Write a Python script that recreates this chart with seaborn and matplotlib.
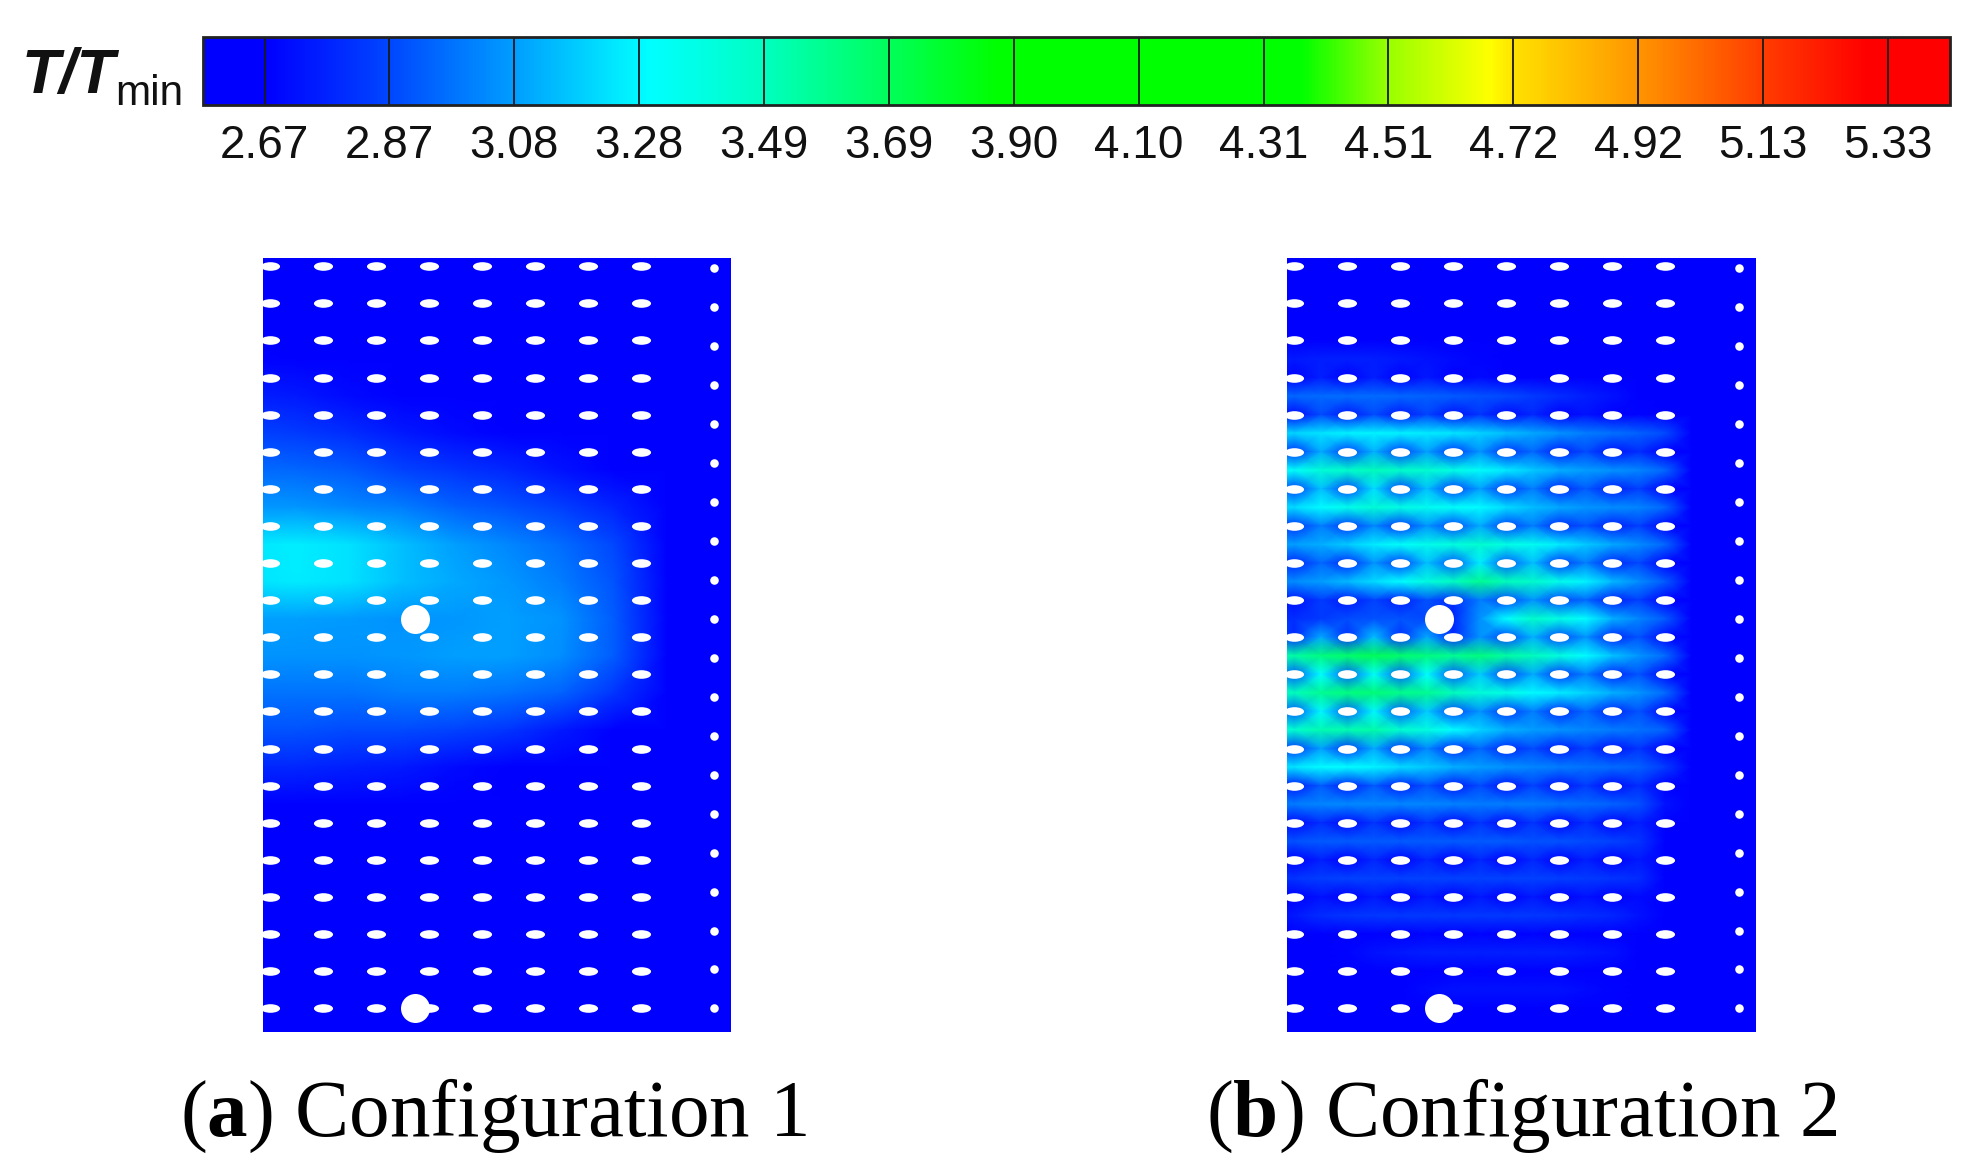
import matplotlib
matplotlib.use("Agg")
import matplotlib.pyplot as plt
from matplotlib.colors import LinearSegmentedColormap
from matplotlib.path import Path
from matplotlib.transforms import Affine2D
import numpy as np
import pandas as pd
import seaborn as sns

W, H = 1979, 1171
plt.rcParams['mathtext.fontset'] = 'custom'
plt.rcParams['mathtext.bf'] = 'Liberation Serif:bold'
plt.rcParams['mathtext.rm'] = 'Liberation Serif'

level_labels = ["2.67", "2.87", "3.08", "3.28", "3.49", "3.69", "3.90", "4.10",
                "4.31", "4.51", "4.72", "4.92", "5.13", "5.33"]
level_values = [2.667, 2.872, 3.077, 3.282, 3.487, 3.692, 3.897, 4.102,
                4.307, 4.512, 4.717, 4.922, 5.127, 5.332]
value_min, value_max = 2.566, 5.434
colour_stops = [(2.566, (0, 0, 255)), (2.67, (0, 0, 255)), (2.87, (0, 70, 255)), (3.08, (0, 160, 255)),
                (3.26, (0, 240, 255)), (3.30, (0, 255, 255)), (3.49, (0, 255, 190)), (3.69, (0, 255, 90)),
                (3.87, (0, 255, 0)), (4.37, (0, 255, 0)), (4.51, (150, 255, 0)), (4.68, (255, 255, 0)),
                (4.72, (255, 225, 0)), (4.92, (255, 150, 0)), (5.13, (255, 60, 0)), (5.30, (255, 0, 0)),
                (5.434, (255, 0, 0))]

# T/Tmin; rows run top to bottom
panel_a_values = [
 [2.6]*11, [2.6]*11, [2.6]*11,
 [2.68,2.66,2.63,2.6,2.6,2.6,2.6,2.6,2.6,2.6,2.6],
 [2.76,2.74,2.70,2.65,2.62,2.6,2.6,2.6,2.6,2.6,2.6],
 [2.86,2.84,2.80,2.74,2.70,2.67,2.63,2.6,2.6,2.6,2.6],
 [2.96,2.95,2.92,2.86,2.82,2.78,2.72,2.66,2.6,2.6,2.6],
 [3.06,3.06,3.03,3.00,2.94,2.90,2.85,2.77,2.61,2.6,2.6],
 [3.24,3.26,3.23,3.15,3.08,3.02,2.96,2.87,2.63,2.6,2.6],
 [3.23,3.25,3.23,3.15,3.10,3.06,3.00,2.90,2.64,2.6,2.6],
 [3.08,3.08,3.07,3.05,3.06,3.08,3.05,2.92,2.64,2.6,2.6],
 [3.05,3.05,3.05,3.06,3.08,3.08,3.04,2.92,2.63,2.6,2.6],
 [2.98,2.98,2.98,3.00,3.00,2.98,2.94,2.82,2.61,2.6,2.6],
 [2.90,2.90,2.88,2.88,2.86,2.82,2.74,2.64,2.6,2.6,2.6],
 [2.78,2.78,2.76,2.74,2.70,2.66,2.62,2.6,2.6,2.6,2.6],
 [2.62,2.62,2.62,2.6,2.6,2.6,2.6,2.6,2.6,2.6,2.6],
 [2.6]*11, [2.6]*11, [2.6]*11, [2.6]*11, [2.6]*11, [2.6]*11, [2.6]*11,
]

panel_b_values = [
 [2.6]*20,
 [2.6]*12+[2.63]+[2.6]*7,
 [2.6]*12+[2.63]+[2.6]*7,
 [2.6]*20, [2.6]*20, [2.6]*20,
 [2.74,2.74,2.76,2.76,2.76,2.74,2.72,2.70,2.68,2.66,2.64,2.62]+[2.6]*8,
 [2.76,2.66,2.76,2.66,2.76,2.66,2.74,2.65,2.7,2.63,2.66]+[2.6]*9,
 [2.95,2.95,2.96,2.96,2.96,2.95,2.94,2.92,2.9,2.88,2.84,2.8,2.76,2.72,2.66,2.6,2.6,2.6,2.6,2.6],
 [2.84,2.7,2.88,2.74,2.88,2.74,2.86,2.72,2.82,2.7,2.78,2.66,2.72,2.64,2.68,2.6,2.6,2.6,2.6,2.6],
 [3.2,3.2,3.24,3.27,3.28,3.27,3.26,3.24,3.2,3.15,3.1,3.05,3.0,2.97,2.94,2.88,2.6,2.6,2.6,2.6],
 [3.05,2.82,3.1,2.86,3.12,2.86,3.08,2.84,3.05,2.82,2.95,2.76,2.88,2.72,2.8,2.64,2.6,2.6,2.6,2.6],
 [3.3,3.32,3.42,3.46,3.5,3.46,3.44,3.38,3.32,3.25,3.18,3.12,3.08,3.05,3.02,2.95,2.6,2.6,2.6,2.6],
 [3.1,2.86,3.15,2.88,3.22,2.88,3.15,2.86,3.08,2.84,3.0,2.78,2.92,2.76,2.85,2.68,2.6,2.6,2.6,2.6],
 [3.2,3.22,3.3,3.36,3.42,3.38,3.35,3.32,3.3,3.22,3.15,3.1,3.06,3.04,3.02,2.95,2.6,2.6,2.6,2.6],
 [2.95,2.82,3.0,2.84,3.02,2.84,3.05,2.88,3.1,2.86,3.0,2.8,2.9,2.76,2.85,2.68,2.6,2.6,2.6,2.6],
 [3.08,3.08,3.12,3.18,3.26,3.32,3.36,3.4,3.44,3.38,3.34,3.26,3.18,3.1,3.04,2.95,2.6,2.6,2.6,2.6],
 [2.9,2.78,2.95,2.8,3.05,2.86,3.15,2.92,3.25,2.92,3.15,2.84,3.0,2.78,2.87,2.68,2.6,2.6,2.6,2.6],
 [3.02,3.04,3.08,3.14,3.22,3.3,3.4,3.48,3.58,3.5,3.46,3.36,3.28,3.14,3.04,2.92,2.6,2.6,2.6,2.6],
 [2.82,2.72,2.84,2.74,2.86,2.76,2.9,2.8,3.0,2.88,3.05,2.88,2.95,2.76,2.85,2.68,2.6,2.6,2.6,2.6],
 [2.78,2.8,2.84,2.88,2.9,2.9,2.88,2.78,3.05,3.3,3.46,3.38,3.3,3.12,3.02,2.92,2.6,2.6,2.6,2.6],
 [3.0,2.8,3.1,2.82,3.15,2.82,3.1,2.8,3.05,2.88,3.12,2.88,3.05,2.78,2.9,2.7,2.6,2.6,2.6,2.6],
 [3.48,3.55,3.62,3.66,3.7,3.66,3.62,3.58,3.62,3.55,3.5,3.4,3.3,3.16,3.06,2.96,2.62,2.6,2.6,2.6],
 [3.2,2.92,3.3,2.94,3.32,2.94,3.3,2.92,3.18,2.88,3.1,2.84,3.0,2.78,2.9,2.7,2.6,2.6,2.6,2.6],
 [3.45,3.5,3.58,3.62,3.64,3.6,3.58,3.5,3.42,3.38,3.3,3.26,3.2,3.12,3.06,2.96,2.62,2.6,2.6,2.6],
 [3.15,2.92,3.28,2.94,3.28,2.92,3.18,2.88,3.05,2.84,3.0,2.8,2.95,2.78,2.9,2.7,2.6,2.6,2.6,2.6],
 [3.38,3.45,3.52,3.52,3.54,3.44,3.4,3.3,3.2,3.12,3.08,3.05,3.02,3.0,2.98,2.94,2.6,2.6,2.6,2.6],
 [3.02,2.84,3.08,2.84,3.1,2.82,3.02,2.8,2.95,2.78,2.88,2.74,2.85,2.72,2.82,2.66,2.6,2.6,2.6,2.6],
 [3.2,3.24,3.3,3.3,3.28,3.22,3.18,3.12,3.08,3.05,3.02,3.0,2.98,2.96,2.94,2.84,2.6,2.6,2.6,2.6],
 [2.88,2.74,2.92,2.76,2.92,2.76,2.9,2.74,2.88,2.72,2.86,2.72,2.84,2.7,2.8,2.62,2.6,2.6,2.6,2.6],
 [2.98,3.0,3.02,3.03,3.03,3.02,3.02,3.01,3.0,3.0,3.0,2.98,2.96,2.94,2.9,2.72,2.6,2.6,2.6,2.6],
 [2.78,2.7,2.8,2.7,2.82,2.7,2.82,2.7,2.82,2.7,2.82,2.68,2.8,2.68,2.76,2.62,2.6,2.6,2.6,2.6],
 [2.88,2.9,2.92,2.92,2.92,2.92,2.92,2.92,2.92,2.92,2.9,2.9,2.88,2.86,2.82,2.62,2.6,2.6,2.6,2.6],
 [2.74,2.66,2.76,2.66,2.78,2.66,2.78,2.66,2.78,2.66,2.78,2.66,2.76,2.66,2.74,2.6,2.6,2.6,2.6,2.6],
 [2.8,2.82,2.85,2.86,2.86,2.86,2.86,2.86,2.86,2.86,2.86,2.85,2.84,2.82,2.8,2.6,2.6,2.6,2.6,2.6],
 [2.68,2.64,2.72,2.64,2.74,2.64,2.74,2.64,2.74,2.64,2.74,2.64,2.72,2.64,2.7,2.6,2.6,2.6,2.6,2.6],
 [2.68,2.74,2.8,2.82,2.83,2.83,2.83,2.83,2.83,2.83,2.83,2.82,2.8,2.78,2.72,2.6,2.6,2.6,2.6,2.6],
 [2.6,2.6,2.64,2.6,2.66,2.62,2.68,2.62,2.68,2.62,2.68,2.62,2.66,2.62,2.62,2.6,2.6,2.6,2.6,2.6],
 [2.6,2.62,2.65,2.68,2.72,2.74,2.76,2.76,2.76,2.76,2.76,2.76,2.74,2.72,2.6,2.6,2.6,2.6,2.6,2.6],
 [2.6,2.6,2.6,2.6,2.62,2.6,2.66,2.62,2.66,2.62,2.66,2.62,2.64,2.6,2.6,2.6,2.6,2.6,2.6,2.6],
 [2.6,2.6,2.6,2.6,2.62,2.66,2.7,2.72,2.72,2.72,2.72,2.72,2.7,2.68,2.6,2.6,2.6,2.6,2.6,2.6],
 [2.6,2.6,2.6,2.6,2.6,2.62,2.6,2.64,2.6,2.64,2.6,2.64,2.6,2.6,2.6,2.6,2.6,2.6,2.6,2.6],
 [2.6,2.6,2.6,2.6,2.6,2.6,2.63,2.63,2.63,2.63,2.63,2.63,2.6,2.6,2.6,2.6,2.6,2.6,2.6,2.6],
 [2.6]*20,
]

# feature positions on the fine grid of the field (column, row)
hole_columns = [1, 3, 5, 7, 9, 11, 13, 15]
hole_rows = [1, 3, 5, 7, 9, 11, 13, 15, 17, 19, 21, 23, 25, 27, 29, 31, 33, 35, 37, 39, 41]
edge_dot_column = [17.76]
edge_dot_rows = [1.12, 3.22, 5.32, 7.42, 9.52, 11.62, 13.72, 15.82, 17.92, 20.02,
                 22.12, 24.21, 26.31, 28.41, 30.51, 32.61, 34.71, 36.81, 38.9, 41.0]
cylinder_column = [6.47, 6.47]
cylinder_rows = [20.0, 41.0]
captions = [r"($\mathbf{a}$) Configuration 1", r"($\mathbf{b}$) Configuration 2"]
caption_x = [494, 1522]

cmap = LinearSegmentedColormap.from_list(
    "tecplot",
    [((v - value_min) / (value_max - value_min), tuple(c / 255 for c in rgb)) for v, rgb in colour_stops],
    N=512)

fig = plt.figure(figsize=(W / 100, H / 100), dpi=100, facecolor="white")

def px_axes(x0, y0, x1, y1):
    return fig.add_axes([x0 / W, 1 - y1 / H, (x1 - x0) / W, (y1 - y0) / H])

ellipse = Path.unit_circle().transformed(Affine2D().scale(1, 0.45))

def panel(x0, values, step, cbar_ax=None):
    ax = px_axes(x0, 257.5, x0 + 468.5, 1032)
    cbar_opts = dict(cbar=False)
    if cbar_ax is not None:
        cbar_opts = dict(cbar=True, cbar_ax=cbar_ax,
                         cbar_kws=dict(orientation="horizontal", ticks=level_values))
    sns.heatmap(pd.DataFrame(values), ax=ax, cmap=cmap, vmin=value_min, vmax=value_max,
                xticklabels=False, yticklabels=False, shading="gouraud", **cbar_opts)
    gx, gy = np.meshgrid(np.array(hole_columns) / step, np.array(hole_rows) / step)
    sns.scatterplot(x=gx.ravel(), y=gy.ravel(), marker=ellipse, s=190, color="white",
                    linewidth=0, ax=ax, legend=False)
    sns.scatterplot(x=np.array(edge_dot_column * len(edge_dot_rows)) / step, y=np.array(edge_dot_rows) / step,
                    s=38, color="white", linewidth=0, ax=ax, legend=False)
    sns.scatterplot(x=np.array(cylinder_column) / step, y=np.array(cylinder_rows) / step,
                    s=436, color="white", linewidth=0, ax=ax, legend=False)
    ax.set_xlim(0.717 / step, 18.4 / step)
    ax.set_ylim(42.28 / step, 0.53 / step)
    ax.set_axis_off()
    return ax

cax = px_axes(203, 37, 1950, 105)
ax_a = panel(262.5, panel_a_values, 2, cbar_ax=cax)
ax_b = panel(1287, panel_b_values, 1)

cb = ax_a.collections[0].colorbar
cb.outline.set_linewidth(2)
cb.outline.set_edgecolor("#222222")
cb.set_ticklabels(level_labels)
cax.tick_params(length=0, pad=14, labelsize=33, labelcolor="#111111")
for lab in cax.get_xticklabels():
    lab.set_fontfamily("Liberation Sans")
for v in level_values:
    cax.axvline(v, color="#1a1a1a", lw=1.3)

fig.text(22 / W, 1 - 93 / H, "T/T", fontfamily="Liberation Sans", style="italic", fontweight="bold",
         fontsize=45, color="#111111", va="baseline", ha="left")
fig.text(183 / W, 1 - 105 / H, "min", fontfamily="Liberation Sans", fontsize=30.5, color="#111111",
         va="baseline", ha="right")

for label, x in zip(captions, caption_x):
    fig.text(x / W, 1 - 1136 / H, label, fontfamily="Liberation Serif", fontsize=58.3, color="black",
             ha="center", va="baseline")

fig.savefig("out.png", dpi=100, facecolor="white")
